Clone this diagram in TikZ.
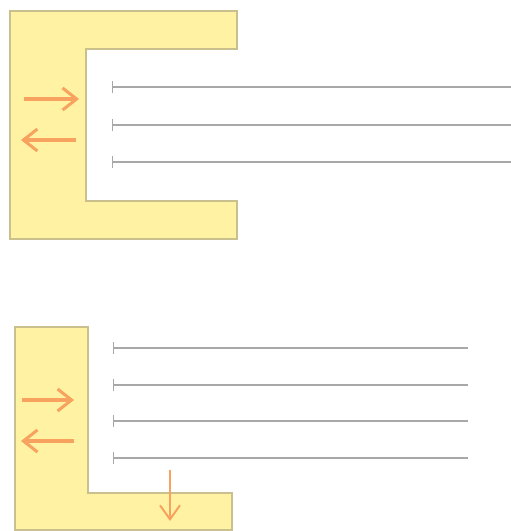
\documentclass[tikz,border=0pt]{standalone}
\usetikzlibrary{arrows.meta}
\definecolor{wallfill}{HTML}{FFF3A3}
\definecolor{walledge}{HTML}{C9C08E}
\definecolor{arrorange}{HTML}{F7A25E}
\definecolor{linegrey}{HTML}{A8A8A8}
\begin{document}
\begin{tikzpicture}[x=1pt,y=-1pt,
  wall/.style={fill=wallfill,draw=walledge,line width=1.2pt},
  ray/.style={draw=linegrey,line width=1.4pt,{Bar[width=12pt,line width=1.2pt]}-},
  flow/.style={draw=arrorange,line width=3.5pt,-{Straight Barb[length=14pt,width=22pt,line width=3pt]}}]
\useasboundingbox (0,0) rectangle (511,531);
% top C-shape
\draw[wall] (10,11) -- (237,11) -- (237,49) -- (86,49) -- (86,201) -- (237,201) -- (237,239) -- (10,239) -- cycle;
\foreach \y/\n in {87/a,125/b,162/c}{
  \coordinate (s\n) at (112,\y);
  \coordinate (e\n) at (511,\y);
  \draw[ray] (s\n) -- (e\n);
}
\coordinate (r1s) at (24,99); \coordinate (r1e) at (79,99);
\coordinate (l1s) at (76,140); \coordinate (l1e) at (21,140);
\draw[flow] (r1s) -- (r1e);
\draw[flow] (l1s) -- (l1e);
% bottom L-shape
\draw[wall] (15,327) -- (88,327) -- (88,493) -- (232,493) -- (232,530) -- (15,530) -- cycle;
\foreach \y/\n in {348/d,385/e,421/f,458/g}{
  \coordinate (s\n) at (113,\y);
  \coordinate (e\n) at (468,\y);
  \draw[ray] (s\n) -- (e\n);
}
\coordinate (r2s) at (22,400); \coordinate (r2e) at (74,400);
\coordinate (l2s) at (74,441); \coordinate (l2e) at (21,441);
\coordinate (ds) at (170,470); \coordinate (de) at (170,521);
\draw[flow] (r2s) -- (r2e);
\draw[flow] (l2s) -- (l2e);
\draw[flow,line width=2pt,-{Straight Barb[length=14pt,width=20pt,line width=2pt]}] (ds) -- (de);
\end{tikzpicture}
\end{document}
